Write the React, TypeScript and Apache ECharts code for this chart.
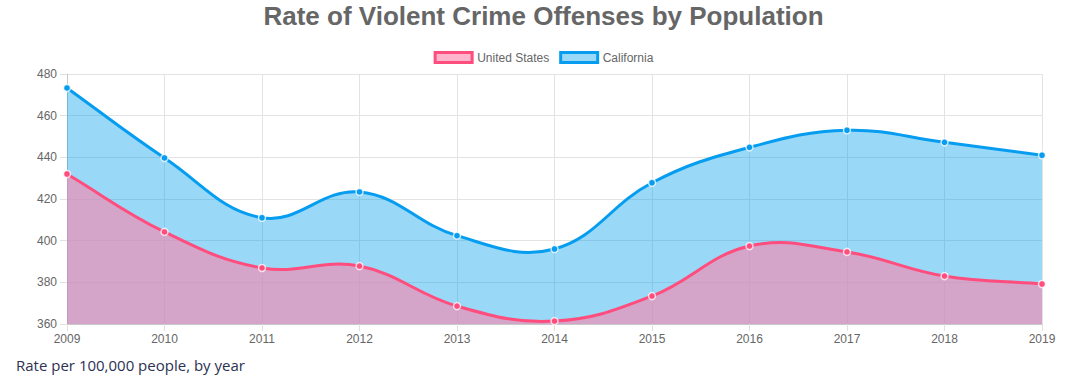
import React, { useEffect, useRef } from "react";
import * as echarts from "echarts";

const years = ["2009", "2010", "2011", "2012", "2013", "2014", "2015", "2016", "2017", "2018", "2019"];
const unitedStates = [432, 404.2, 386.9, 387.8, 368.6, 361.4, 373.4, 397.4, 394.6, 383.0, 379.2];
const california = [473.3, 439.7, 411.0, 423.4, 402.4, 396.0, 427.8, 444.8, 453.0, 447.2, 441.0];
const yMin = 360;
const yMax = 480;
const yStep = 20;

const FONT = "'Liberation Sans', Arial, Helvetica, sans-serif";
const TENSION = 0.4;

const BLUE = "#069df0";
const BLUE_FILL = "rgba(0,158,235,0.4)";
const PINK = "#ff4d7e";
const PINK_FILL = "rgba(253,131,170,0.6)";

function splinePath(pts: number[][]) {
  const n = pts.length;
  const prevCP: number[][] = [];
  const nextCP: number[][] = [];
  for (let i = 0; i < n; i++) {
    const p = pts[i - 1] || pts[i];
    const c = pts[i];
    const q = pts[i + 1] || pts[i];
    const d01 = Math.hypot(c[0] - p[0], c[1] - p[1]);
    const d12 = Math.hypot(q[0] - c[0], q[1] - c[1]);
    const sum = d01 + d12 || 1;
    const fa = (TENSION * d01) / sum;
    const fb = (TENSION * d12) / sum;
    prevCP.push([c[0] - fa * (q[0] - p[0]), c[1] - fa * (q[1] - p[1])]);
    nextCP.push([c[0] + fb * (q[0] - p[0]), c[1] + fb * (q[1] - p[1])]);
  }
  let d = `M${pts[0][0]},${pts[0][1]}`;
  for (let i = 0; i < n - 1; i++) {
    d += ` C${nextCP[i][0]},${nextCP[i][1]} ${prevCP[i + 1][0]},${prevCP[i + 1][1]} ${pts[i + 1][0]},${pts[i + 1][1]}`;
  }
  return d;
}

function curveSeries(name: string, values: number[], stroke: string, fill: string, z: number) {
  return {
    name,
    type: "custom",
    z,
    data: values.map((v, i) => [i, v]),
    encode: { x: 0, y: 1 },
    clip: false,
    renderItem: (params: any, api: any) => {
      if (params.dataIndex !== 0) return null;
      const pts = values.map((v, i) => api.coord([i, v]));
      const line = splinePath(pts);
      const base0 = api.coord([0, yMin]);
      const base1 = api.coord([values.length - 1, yMin]);
      const area = `${line} L${base1[0]},${base1[1]} L${base0[0]},${base0[1]} Z`;
      return {
        type: "group",
        children: [
          { type: "path", shape: { pathData: area }, style: { fill, stroke: null } },
          {
            type: "path",
            shape: { pathData: line },
            style: { fill: null, stroke, lineWidth: 3, lineJoin: "round" },
          },
        ],
      };
    },
  };
}

function pointSeries(name: string, values: number[], color: string) {
  return {
    name,
    type: "line",
    data: values,
    z: 10,
    symbol: "circle",
    symbolSize: 7,
    showSymbol: true,
    lineStyle: { width: 0, opacity: 0 },
    itemStyle: { color, borderColor: "rgba(255,255,255,0.75)", borderWidth: 1.5 },
  };
}

export default function App() {
  const ref = useRef<HTMLDivElement>(null);
  useEffect(() => {
    document.body.style.margin = "0";
    if (!ref.current) return;
    const chart = echarts.init(ref.current, undefined, { renderer: "svg" });
    chart.setOption({
      animation: false,
      title: {
        text: "Rate of Violent Crime Offenses by Population",
        left: "center",
        top: 3,
        padding: 0,
        textStyle: { fontSize: 26, fontWeight: "bold", color: "#666", fontFamily: FONT },
      },
      legend: {
        top: 46,
        left: "center",
        icon: "rect",
        itemWidth: 37,
        itemHeight: 10,
        itemGap: 10,
        textStyle: { fontSize: 12, color: "#666", fontFamily: FONT },
        data: [
          { name: "United States", itemStyle: { color: PINK_FILL, borderColor: PINK, borderWidth: 3 } },
          { name: "California", itemStyle: { color: BLUE_FILL, borderColor: BLUE, borderWidth: 3 } },
        ],
      },
      grid: { left: 67, right: 45, top: 74, bottom: 57, containLabel: false },
      xAxis: {
        type: "category",
        data: years,
        boundaryGap: false,
        axisLine: { show: true, lineStyle: { color: "#c8c8c8", width: 1 } },
        axisTick: { show: true, length: 7, lineStyle: { color: "#e0e0e0" } },
        axisLabel: { color: "#666", fontSize: 12, fontFamily: FONT, margin: 9 },
        splitLine: { show: true, lineStyle: { color: "#e3e3e3", width: 1 } },
      },
      yAxis: {
        type: "value",
        min: yMin,
        max: yMax,
        interval: yStep,
        axisLine: { show: true, lineStyle: { color: "#c8c8c8", width: 1 } },
        axisTick: { show: true, length: 7, lineStyle: { color: "#e0e0e0" } },
        axisLabel: { color: "#666", fontSize: 12, fontFamily: FONT, margin: 10 },
        splitLine: { show: true, lineStyle: { color: "#e3e3e3", width: 1 } },
      },
      graphic: [
        {
          type: "text",
          left: 16,
          top: 357,
          style: {
            text: "Rate per 100,000 people, by year",
            fontSize: 15,
            fontFamily: "'Open Sans', sans-serif",
            fill: "#2b3252",
          },
        },
      ],
      series: [
        curveSeries("California", california, BLUE, BLUE_FILL, 2),
        curveSeries("United States", unitedStates, PINK, PINK_FILL, 3),
        pointSeries("California", california, BLUE),
        pointSeries("United States", unitedStates, PINK),
      ],
    });
    return () => chart.dispose();
  }, []);
  return <div ref={ref} style={{ width: 1087, height: 381 }} />;
}
